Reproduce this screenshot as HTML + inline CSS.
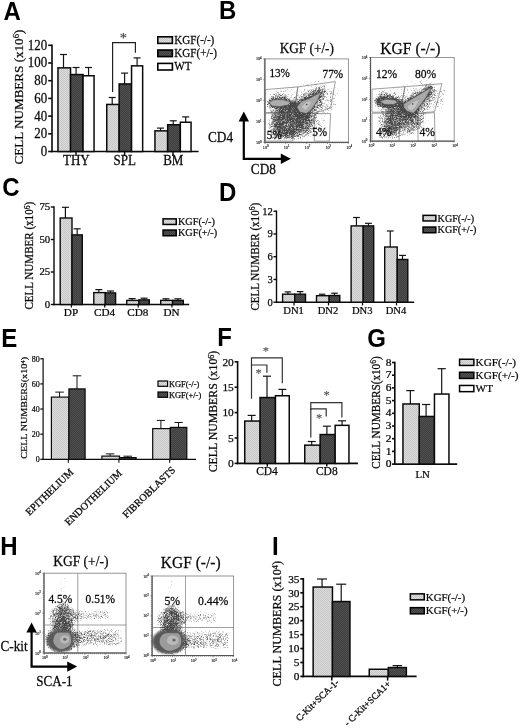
<!DOCTYPE html>
<html><head><meta charset="utf-8"><title>Figure</title>
<style>
html,body{margin:0;padding:0;background:#fff}
svg{display:block}
.s{font-family:"Liberation Serif","Times New Roman",serif}
.a{font-family:"Liberation Sans",Arial,sans-serif}
</style></head>
<body>
<svg width="520" height="728" viewBox="0 0 520 728">
<rect x="0" y="0" width="520" height="728" fill="#fff"/>
<defs>
<pattern id="pl" width="2" height="2" patternUnits="userSpaceOnUse"><rect width="2" height="2" fill="#dcdcdc"/><rect width="1" height="1" fill="#c6c6c6"/><rect x="1" y="1" width="1" height="1" fill="#c6c6c6"/></pattern>
<pattern id="pd" width="2" height="2" patternUnits="userSpaceOnUse"><rect width="2" height="2" fill="#3e3e3e"/><rect width="1" height="1" fill="#505050"/><rect x="1" y="1" width="1" height="1" fill="#505050"/></pattern>
<filter id="sp" x="0" y="0" width="1" height="1" color-interpolation-filters="sRGB">
<feTurbulence type="fractalNoise" baseFrequency="1.7" numOctaves="1" seed="5" result="n"/>
<feComposite in="SourceGraphic" in2="n" operator="arithmetic" k1="0" k2="1" k3="1" k4="-1" result="c"/>
<feComponentTransfer in="c" result="t"><feFuncA type="linear" slope="2.5" intercept="0"/></feComponentTransfer>
<feFlood flood-color="#464646"/>
<feComposite operator="in" in2="t"/>
<feGaussianBlur stdDeviation="0.75"/>
</filter>
<filter id="b1" x="-30%" y="-30%" width="160%" height="160%"><feGaussianBlur stdDeviation="1"/></filter>
<filter id="b2" x="-30%" y="-30%" width="160%" height="160%"><feGaussianBlur stdDeviation="2"/></filter>
<filter id="b3" x="-40%" y="-40%" width="180%" height="180%"><feGaussianBlur stdDeviation="3.2"/></filter>
</defs>
<text class="a" transform="translate(3.5 20.05) scale(0.96 1)" font-size="25" font-weight="bold" fill="#000">A</text>
<text class="a" transform="translate(218.99 18.95) scale(0.96 1)" font-size="25" font-weight="bold" fill="#000">B</text>
<text class="a" transform="translate(2.32 196.13) scale(0.96 1)" font-size="25" font-weight="bold" fill="#000">C</text>
<text class="a" transform="translate(218.99 200.55) scale(0.96 1)" font-size="25" font-weight="bold" fill="#000">D</text>
<text class="a" transform="translate(1.29 347.05) scale(0.96 1)" font-size="25" font-weight="bold" fill="#000">E</text>
<text class="a" transform="translate(217.29 346.45) scale(0.96 1)" font-size="25" font-weight="bold" fill="#000">F</text>
<text class="a" transform="translate(367.32 346.82) scale(0.96 1)" font-size="25" font-weight="bold" fill="#000">G</text>
<text class="a" transform="translate(0.19 555.15) scale(0.96 1)" font-size="25" font-weight="bold" fill="#000">H</text>
<text class="a" transform="translate(271.89 555.15) scale(0.96 1)" font-size="25" font-weight="bold" fill="#000">I</text>
<line x1="52" y1="44.5" x2="52" y2="152.3" stroke="#0a0a0a" stroke-width="1.6" stroke-linecap="butt"/>
<line x1="48.2" y1="151.5" x2="52" y2="151.5" stroke="#0a0a0a" stroke-width="1.6" stroke-linecap="butt"/>
<text class="s" transform="translate(47.2 155.99) scale(0.95 1)" font-size="13.6" text-anchor="end" fill="#0a0a0a" stroke="#0a0a0a" stroke-width="0.25">0</text>
<line x1="48.2" y1="133.8" x2="52" y2="133.8" stroke="#0a0a0a" stroke-width="1.6" stroke-linecap="butt"/>
<text class="s" transform="translate(47.2 138.29) scale(0.95 1)" font-size="13.6" text-anchor="end" fill="#0a0a0a" stroke="#0a0a0a" stroke-width="0.25">20</text>
<line x1="48.2" y1="116.1" x2="52" y2="116.1" stroke="#0a0a0a" stroke-width="1.6" stroke-linecap="butt"/>
<text class="s" transform="translate(47.2 120.59) scale(0.95 1)" font-size="13.6" text-anchor="end" fill="#0a0a0a" stroke="#0a0a0a" stroke-width="0.25">40</text>
<line x1="48.2" y1="98.4" x2="52" y2="98.4" stroke="#0a0a0a" stroke-width="1.6" stroke-linecap="butt"/>
<text class="s" transform="translate(47.2 102.89) scale(0.95 1)" font-size="13.6" text-anchor="end" fill="#0a0a0a" stroke="#0a0a0a" stroke-width="0.25">60</text>
<line x1="48.2" y1="80.7" x2="52" y2="80.7" stroke="#0a0a0a" stroke-width="1.6" stroke-linecap="butt"/>
<text class="s" transform="translate(47.2 85.19) scale(0.95 1)" font-size="13.6" text-anchor="end" fill="#0a0a0a" stroke="#0a0a0a" stroke-width="0.25">80</text>
<line x1="48.2" y1="63" x2="52" y2="63" stroke="#0a0a0a" stroke-width="1.6" stroke-linecap="butt"/>
<text class="s" transform="translate(47.2 67.49) scale(0.95 1)" font-size="13.6" text-anchor="end" fill="#0a0a0a" stroke="#0a0a0a" stroke-width="0.25">100</text>
<line x1="48.2" y1="45.3" x2="52" y2="45.3" stroke="#0a0a0a" stroke-width="1.6" stroke-linecap="butt"/>
<text class="s" transform="translate(47.2 49.79) scale(0.95 1)" font-size="13.6" text-anchor="end" fill="#0a0a0a" stroke="#0a0a0a" stroke-width="0.25">120</text>
<line x1="51.2" y1="151.5" x2="198.6" y2="151.5" stroke="#0a0a0a" stroke-width="1.6" stroke-linecap="butt"/>
<line x1="76" y1="151.5" x2="76" y2="156" stroke="#0a0a0a" stroke-width="1.44" stroke-linecap="butt"/>
<line x1="124.6" y1="151.5" x2="124.6" y2="156" stroke="#0a0a0a" stroke-width="1.44" stroke-linecap="butt"/>
<line x1="173" y1="151.5" x2="173" y2="156" stroke="#0a0a0a" stroke-width="1.44" stroke-linecap="butt"/>
<line x1="63.5" y1="54.5" x2="63.5" y2="68.1" stroke="#141414" stroke-width="1.2" stroke-linecap="butt"/>
<line x1="60" y1="54.5" x2="67" y2="54.5" stroke="#141414" stroke-width="1.2" stroke-linecap="butt"/>
<line x1="76.05" y1="67.5" x2="76.05" y2="74.8" stroke="#141414" stroke-width="1.2" stroke-linecap="butt"/>
<line x1="72.55" y1="67.5" x2="79.55" y2="67.5" stroke="#141414" stroke-width="1.2" stroke-linecap="butt"/>
<line x1="88.55" y1="67.5" x2="88.55" y2="76" stroke="#141414" stroke-width="1.2" stroke-linecap="butt"/>
<line x1="85.05" y1="67.5" x2="92.05" y2="67.5" stroke="#141414" stroke-width="1.2" stroke-linecap="butt"/>
<rect x="57.95" y="67.85" width="12.6" height="83.65" fill="url(#pl)" stroke="#0a0a0a" stroke-width="1.5"/>
<rect x="70.55" y="74.55" width="12.5" height="76.95" fill="url(#pd)" stroke="#0a0a0a" stroke-width="1.5"/>
<rect x="83.05" y="75.75" width="11" height="75.75" fill="#ffffff" stroke="#0a0a0a" stroke-width="1.5"/>
<line x1="112.2" y1="97.5" x2="112.2" y2="104.7" stroke="#141414" stroke-width="1.2" stroke-linecap="butt"/>
<line x1="108.7" y1="97.5" x2="115.7" y2="97.5" stroke="#141414" stroke-width="1.2" stroke-linecap="butt"/>
<line x1="124.6" y1="73.1" x2="124.6" y2="84.2" stroke="#141414" stroke-width="1.2" stroke-linecap="butt"/>
<line x1="121.1" y1="73.1" x2="128.1" y2="73.1" stroke="#141414" stroke-width="1.2" stroke-linecap="butt"/>
<line x1="137.1" y1="57.9" x2="137.1" y2="66.1" stroke="#141414" stroke-width="1.2" stroke-linecap="butt"/>
<line x1="133.6" y1="57.9" x2="140.6" y2="57.9" stroke="#141414" stroke-width="1.2" stroke-linecap="butt"/>
<rect x="106.75" y="104.45" width="12.4" height="47.05" fill="url(#pl)" stroke="#0a0a0a" stroke-width="1.5"/>
<rect x="119.15" y="83.95" width="12.4" height="67.55" fill="url(#pd)" stroke="#0a0a0a" stroke-width="1.5"/>
<rect x="131.55" y="65.85" width="11.1" height="85.65" fill="#ffffff" stroke="#0a0a0a" stroke-width="1.5"/>
<line x1="160.55" y1="128.1" x2="160.55" y2="131.1" stroke="#141414" stroke-width="1.2" stroke-linecap="butt"/>
<line x1="157.05" y1="128.1" x2="164.05" y2="128.1" stroke="#141414" stroke-width="1.2" stroke-linecap="butt"/>
<line x1="173.25" y1="120.8" x2="173.25" y2="125" stroke="#141414" stroke-width="1.2" stroke-linecap="butt"/>
<line x1="169.75" y1="120.8" x2="176.75" y2="120.8" stroke="#141414" stroke-width="1.2" stroke-linecap="butt"/>
<line x1="185.7" y1="116.9" x2="185.7" y2="122.5" stroke="#141414" stroke-width="1.2" stroke-linecap="butt"/>
<line x1="182.2" y1="116.9" x2="189.2" y2="116.9" stroke="#141414" stroke-width="1.2" stroke-linecap="butt"/>
<rect x="154.95" y="130.85" width="12.7" height="20.65" fill="url(#pl)" stroke="#0a0a0a" stroke-width="1.5"/>
<rect x="167.65" y="124.75" width="12.7" height="26.75" fill="url(#pd)" stroke="#0a0a0a" stroke-width="1.5"/>
<rect x="180.35" y="122.25" width="10.7" height="29.25" fill="#ffffff" stroke="#0a0a0a" stroke-width="1.5"/>
<text class="s" transform="translate(76.3 164.6) scale(1 1.13)" font-size="13" text-anchor="middle" fill="#0a0a0a" stroke="#0a0a0a" stroke-width="0.25">THY</text>
<text class="s" transform="translate(124.8 164.6) scale(1 1.13)" font-size="13" text-anchor="middle" fill="#0a0a0a" stroke="#0a0a0a" stroke-width="0.25">SPL</text>
<text class="s" transform="translate(173.3 164.6) scale(1 1.13)" font-size="13" text-anchor="middle" fill="#0a0a0a" stroke="#0a0a0a" stroke-width="0.25">BM</text>
<text class="s" transform="translate(22.6 164.4) rotate(-90) scale(1 0.96)" font-size="13.1" text-anchor="start" fill="#0a0a0a" stroke="#0a0a0a" stroke-width="0.25">CELL NUMBERS (x10<tspan dy="-3.4" font-size="68%">6</tspan><tspan dy="3.4">)</tspan></text>
<path d="M112.6 92V42.6H135.4V52.7" fill="none" stroke="#222" stroke-width="1.2"/>
<text class="s" transform="translate(123.3 43.3)" font-size="14.5" text-anchor="middle" fill="#3a3a3a" stroke="#3a3a3a" stroke-width="0.15">*</text>
<rect x="157.8" y="36.8" width="14.6" height="6.6" fill="url(#pl)" stroke="#000" stroke-width="1.6"/>
<text class="s" transform="translate(174.3 44.2) scale(0.94 1.05)" font-size="11.8" text-anchor="start" fill="#0a0a0a" stroke="#0a0a0a" stroke-width="0.25">KGF(-/-)</text>
<rect x="157.8" y="50" width="14.6" height="6.6" fill="url(#pd)" stroke="#000" stroke-width="1.6"/>
<text class="s" transform="translate(174.3 57.4) scale(0.94 1.05)" font-size="11.8" text-anchor="start" fill="#0a0a0a" stroke="#0a0a0a" stroke-width="0.25">KGF(+/-)</text>
<rect x="157.8" y="63.4" width="14.6" height="6.6" fill="#ffffff" stroke="#000" stroke-width="1.6"/>
<text class="s" transform="translate(174.3 70) scale(0.94 1.05)" font-size="11.8" text-anchor="start" fill="#0a0a0a" stroke="#0a0a0a" stroke-width="0.25">WT</text>
<line x1="54" y1="206.3" x2="54" y2="305.2" stroke="#0a0a0a" stroke-width="1.4" stroke-linecap="butt"/>
<line x1="50.8" y1="304.5" x2="54" y2="304.5" stroke="#0a0a0a" stroke-width="1.4" stroke-linecap="butt"/>
<text class="s" transform="translate(50.2 307.96) scale(1 0.97)" font-size="10.8" text-anchor="end" fill="#0a0a0a" stroke="#0a0a0a" stroke-width="0.25">0</text>
<line x1="50.8" y1="272" x2="54" y2="272" stroke="#0a0a0a" stroke-width="1.4" stroke-linecap="butt"/>
<text class="s" transform="translate(50.2 275.46) scale(1 0.97)" font-size="10.8" text-anchor="end" fill="#0a0a0a" stroke="#0a0a0a" stroke-width="0.25">25</text>
<line x1="50.8" y1="239.5" x2="54" y2="239.5" stroke="#0a0a0a" stroke-width="1.4" stroke-linecap="butt"/>
<text class="s" transform="translate(50.2 242.96) scale(1 0.97)" font-size="10.8" text-anchor="end" fill="#0a0a0a" stroke="#0a0a0a" stroke-width="0.25">50</text>
<line x1="50.8" y1="207" x2="54" y2="207" stroke="#0a0a0a" stroke-width="1.4" stroke-linecap="butt"/>
<text class="s" transform="translate(50.2 210.46) scale(1 0.97)" font-size="10.8" text-anchor="end" fill="#0a0a0a" stroke="#0a0a0a" stroke-width="0.25">75</text>
<line x1="53.3" y1="304.5" x2="189.2" y2="304.5" stroke="#0a0a0a" stroke-width="1.4" stroke-linecap="butt"/>
<line x1="71.4" y1="304.5" x2="71.4" y2="307.5" stroke="#0a0a0a" stroke-width="1.26" stroke-linecap="butt"/>
<line x1="104.7" y1="304.5" x2="104.7" y2="307.5" stroke="#0a0a0a" stroke-width="1.26" stroke-linecap="butt"/>
<line x1="138.2" y1="304.5" x2="138.2" y2="307.5" stroke="#0a0a0a" stroke-width="1.26" stroke-linecap="butt"/>
<line x1="171.9" y1="304.5" x2="171.9" y2="307.5" stroke="#0a0a0a" stroke-width="1.26" stroke-linecap="butt"/>
<line x1="65.4" y1="207.3" x2="65.4" y2="218.3" stroke="#141414" stroke-width="1.2" stroke-linecap="butt"/>
<line x1="61.9" y1="207.3" x2="68.9" y2="207.3" stroke="#141414" stroke-width="1.2" stroke-linecap="butt"/>
<line x1="77.15" y1="228.8" x2="77.15" y2="235.2" stroke="#141414" stroke-width="1.2" stroke-linecap="butt"/>
<line x1="73.65" y1="228.8" x2="80.65" y2="228.8" stroke="#141414" stroke-width="1.2" stroke-linecap="butt"/>
<rect x="60.2" y="218" width="11.8" height="86.5" fill="url(#pl)" stroke="#0a0a0a" stroke-width="1.4"/>
<rect x="72" y="234.9" width="10.3" height="69.6" fill="url(#pd)" stroke="#0a0a0a" stroke-width="1.4"/>
<line x1="98.85" y1="289.6" x2="98.85" y2="292.9" stroke="#141414" stroke-width="1.2" stroke-linecap="butt"/>
<line x1="95.35" y1="289.6" x2="102.35" y2="289.6" stroke="#141414" stroke-width="1.2" stroke-linecap="butt"/>
<line x1="110.45" y1="291" x2="110.45" y2="293.2" stroke="#141414" stroke-width="1.2" stroke-linecap="butt"/>
<line x1="106.95" y1="291" x2="113.95" y2="291" stroke="#141414" stroke-width="1.2" stroke-linecap="butt"/>
<rect x="93.8" y="292.6" width="11.5" height="11.9" fill="url(#pl)" stroke="#0a0a0a" stroke-width="1.4"/>
<rect x="105.3" y="292.9" width="10.3" height="11.6" fill="url(#pd)" stroke="#0a0a0a" stroke-width="1.4"/>
<line x1="132.1" y1="298.6" x2="132.1" y2="300.7" stroke="#141414" stroke-width="1.2" stroke-linecap="butt"/>
<line x1="128.6" y1="298.6" x2="135.6" y2="298.6" stroke="#141414" stroke-width="1.2" stroke-linecap="butt"/>
<line x1="144.1" y1="298.2" x2="144.1" y2="300.2" stroke="#141414" stroke-width="1.2" stroke-linecap="butt"/>
<line x1="140.6" y1="298.2" x2="147.6" y2="298.2" stroke="#141414" stroke-width="1.2" stroke-linecap="butt"/>
<rect x="126.7" y="300.4" width="12.2" height="4.1" fill="url(#pl)" stroke="#0a0a0a" stroke-width="1.4"/>
<rect x="138.9" y="299.9" width="10.4" height="4.6" fill="url(#pd)" stroke="#0a0a0a" stroke-width="1.4"/>
<line x1="165.95" y1="298.8" x2="165.95" y2="300.7" stroke="#141414" stroke-width="1.2" stroke-linecap="butt"/>
<line x1="162.45" y1="298.8" x2="169.45" y2="298.8" stroke="#141414" stroke-width="1.2" stroke-linecap="butt"/>
<line x1="177.95" y1="298.8" x2="177.95" y2="300.7" stroke="#141414" stroke-width="1.2" stroke-linecap="butt"/>
<line x1="174.45" y1="298.8" x2="181.45" y2="298.8" stroke="#141414" stroke-width="1.2" stroke-linecap="butt"/>
<rect x="160.7" y="300.4" width="11.9" height="4.1" fill="url(#pl)" stroke="#0a0a0a" stroke-width="1.4"/>
<rect x="172.6" y="300.4" width="10.7" height="4.1" fill="url(#pd)" stroke="#0a0a0a" stroke-width="1.4"/>
<text class="s" transform="translate(71 315.6) scale(1 0.97)" font-size="11.2" text-anchor="middle" fill="#0a0a0a" stroke="#0a0a0a" stroke-width="0.25">DP</text>
<text class="s" transform="translate(104.6 315.6) scale(1 0.97)" font-size="11.2" text-anchor="middle" fill="#0a0a0a" stroke="#0a0a0a" stroke-width="0.25">CD4</text>
<text class="s" transform="translate(137.8 315.6) scale(1 0.97)" font-size="11.2" text-anchor="middle" fill="#0a0a0a" stroke="#0a0a0a" stroke-width="0.25">CD8</text>
<text class="s" transform="translate(171.6 315.6) scale(1 0.97)" font-size="11.2" text-anchor="middle" fill="#0a0a0a" stroke="#0a0a0a" stroke-width="0.25">DN</text>
<text class="s" transform="translate(33.4 309.6) rotate(-90) scale(1 1.08)" font-size="11.05" text-anchor="start" fill="#0a0a0a" stroke="#0a0a0a" stroke-width="0.25">CELL NUMBER (x10<tspan dy="-3.4" font-size="68%">6</tspan><tspan dy="3.4">)</tspan></text>
<rect x="163.05" y="218.85" width="13.2" height="5.6" fill="url(#pl)" stroke="#000" stroke-width="1.5"/>
<text class="s" transform="translate(178 225) scale(1 0.95)" font-size="10.2" text-anchor="start" fill="#0a0a0a" stroke="#0a0a0a" stroke-width="0.25">KGF(-/-)</text>
<rect x="163.05" y="230.05" width="13.2" height="5.7" fill="url(#pd)" stroke="#000" stroke-width="1.5"/>
<text class="s" transform="translate(178 236) scale(1 0.95)" font-size="10.2" text-anchor="start" fill="#0a0a0a" stroke="#0a0a0a" stroke-width="0.25">KGF(+/-)</text>
<line x1="276.5" y1="210.5" x2="276.5" y2="302.9" stroke="#0a0a0a" stroke-width="1.4" stroke-linecap="butt"/>
<line x1="273.5" y1="302.2" x2="276.5" y2="302.2" stroke="#0a0a0a" stroke-width="1.4" stroke-linecap="butt"/>
<text class="s" transform="translate(272.9 305.7)" font-size="10.6" text-anchor="end" fill="#0a0a0a" stroke="#0a0a0a" stroke-width="0.25">0</text>
<line x1="273.5" y1="279.45" x2="276.5" y2="279.45" stroke="#0a0a0a" stroke-width="1.4" stroke-linecap="butt"/>
<text class="s" transform="translate(272.9 282.95)" font-size="10.6" text-anchor="end" fill="#0a0a0a" stroke="#0a0a0a" stroke-width="0.25">3</text>
<line x1="273.5" y1="256.7" x2="276.5" y2="256.7" stroke="#0a0a0a" stroke-width="1.4" stroke-linecap="butt"/>
<text class="s" transform="translate(272.9 260.2)" font-size="10.6" text-anchor="end" fill="#0a0a0a" stroke="#0a0a0a" stroke-width="0.25">6</text>
<line x1="273.5" y1="233.95" x2="276.5" y2="233.95" stroke="#0a0a0a" stroke-width="1.4" stroke-linecap="butt"/>
<text class="s" transform="translate(272.9 237.45)" font-size="10.6" text-anchor="end" fill="#0a0a0a" stroke="#0a0a0a" stroke-width="0.25">9</text>
<line x1="273.5" y1="211.2" x2="276.5" y2="211.2" stroke="#0a0a0a" stroke-width="1.4" stroke-linecap="butt"/>
<text class="s" transform="translate(272.9 214.7)" font-size="10.6" text-anchor="end" fill="#0a0a0a" stroke="#0a0a0a" stroke-width="0.25">12</text>
<line x1="275.8" y1="302.2" x2="414.2" y2="302.2" stroke="#0a0a0a" stroke-width="1.4" stroke-linecap="butt"/>
<line x1="294" y1="302.2" x2="294" y2="305.4" stroke="#0a0a0a" stroke-width="1.26" stroke-linecap="butt"/>
<line x1="328.5" y1="302.2" x2="328.5" y2="305.4" stroke="#0a0a0a" stroke-width="1.26" stroke-linecap="butt"/>
<line x1="362.5" y1="302.2" x2="362.5" y2="305.4" stroke="#0a0a0a" stroke-width="1.26" stroke-linecap="butt"/>
<line x1="396.5" y1="302.2" x2="396.5" y2="305.4" stroke="#0a0a0a" stroke-width="1.26" stroke-linecap="butt"/>
<line x1="287.95" y1="291.9" x2="287.95" y2="294.5" stroke="#141414" stroke-width="1.2" stroke-linecap="butt"/>
<line x1="284.7" y1="291.9" x2="291.2" y2="291.9" stroke="#141414" stroke-width="1.2" stroke-linecap="butt"/>
<line x1="300.1" y1="291.6" x2="300.1" y2="294.5" stroke="#141414" stroke-width="1.2" stroke-linecap="butt"/>
<line x1="296.85" y1="291.6" x2="303.35" y2="291.6" stroke="#141414" stroke-width="1.2" stroke-linecap="butt"/>
<rect x="282.6" y="294.2" width="12.1" height="8" fill="url(#pl)" stroke="#0a0a0a" stroke-width="1.4"/>
<rect x="294.7" y="294.2" width="10.8" height="8" fill="url(#pd)" stroke="#0a0a0a" stroke-width="1.4"/>
<line x1="322.15" y1="294.2" x2="322.15" y2="296" stroke="#141414" stroke-width="1.2" stroke-linecap="butt"/>
<line x1="318.9" y1="294.2" x2="325.4" y2="294.2" stroke="#141414" stroke-width="1.2" stroke-linecap="butt"/>
<line x1="334.5" y1="293.2" x2="334.5" y2="295.8" stroke="#141414" stroke-width="1.2" stroke-linecap="butt"/>
<line x1="331.25" y1="293.2" x2="337.75" y2="293.2" stroke="#141414" stroke-width="1.2" stroke-linecap="butt"/>
<rect x="316.5" y="295.7" width="12.7" height="6.5" fill="url(#pl)" stroke="#0a0a0a" stroke-width="1.4"/>
<rect x="329.2" y="295.5" width="10.6" height="6.7" fill="url(#pd)" stroke="#0a0a0a" stroke-width="1.4"/>
<line x1="356.45" y1="217.5" x2="356.45" y2="226.2" stroke="#141414" stroke-width="1.2" stroke-linecap="butt"/>
<line x1="353.05" y1="217.5" x2="359.85" y2="217.5" stroke="#141414" stroke-width="1.2" stroke-linecap="butt"/>
<line x1="368.45" y1="223.3" x2="368.45" y2="226.2" stroke="#141414" stroke-width="1.2" stroke-linecap="butt"/>
<line x1="365.05" y1="223.3" x2="371.85" y2="223.3" stroke="#141414" stroke-width="1.2" stroke-linecap="butt"/>
<rect x="351.1" y="225.9" width="12.1" height="76.3" fill="url(#pl)" stroke="#0a0a0a" stroke-width="1.4"/>
<rect x="363.2" y="225.9" width="10.5" height="76.3" fill="url(#pd)" stroke="#0a0a0a" stroke-width="1.4"/>
<line x1="390.25" y1="231" x2="390.25" y2="247.3" stroke="#141414" stroke-width="1.2" stroke-linecap="butt"/>
<line x1="386.85" y1="231" x2="393.65" y2="231" stroke="#141414" stroke-width="1.2" stroke-linecap="butt"/>
<line x1="402.5" y1="255.4" x2="402.5" y2="259.8" stroke="#141414" stroke-width="1.2" stroke-linecap="butt"/>
<line x1="399.1" y1="255.4" x2="405.9" y2="255.4" stroke="#141414" stroke-width="1.2" stroke-linecap="butt"/>
<rect x="384.7" y="247" width="12.5" height="55.2" fill="url(#pl)" stroke="#0a0a0a" stroke-width="1.4"/>
<rect x="397.2" y="259.5" width="10.6" height="42.7" fill="url(#pd)" stroke="#0a0a0a" stroke-width="1.4"/>
<text class="s" transform="translate(293.6 313.5) scale(1 0.97)" font-size="10.6" text-anchor="middle" fill="#0a0a0a" stroke="#0a0a0a" stroke-width="0.25">DN1</text>
<text class="s" transform="translate(328 313.5) scale(1 0.97)" font-size="10.6" text-anchor="middle" fill="#0a0a0a" stroke="#0a0a0a" stroke-width="0.25">DN2</text>
<text class="s" transform="translate(362.2 313.5) scale(1 0.97)" font-size="10.6" text-anchor="middle" fill="#0a0a0a" stroke="#0a0a0a" stroke-width="0.25">DN3</text>
<text class="s" transform="translate(396 313.5) scale(1 0.97)" font-size="10.6" text-anchor="middle" fill="#0a0a0a" stroke="#0a0a0a" stroke-width="0.25">DN4</text>
<text class="s" transform="translate(258.8 310.6) rotate(-90) scale(1 1.08)" font-size="11.05" text-anchor="start" fill="#0a0a0a" stroke="#0a0a0a" stroke-width="0.25">CELL NUMBER (x10<tspan dy="-3.4" font-size="68%">6</tspan><tspan dy="3.4">)</tspan></text>
<rect x="423.05" y="215.35" width="12.8" height="5.6" fill="url(#pl)" stroke="#000" stroke-width="1.5"/>
<text class="s" transform="translate(437.6 221.5) scale(1 0.97)" font-size="10.1" text-anchor="start" fill="#0a0a0a" stroke="#0a0a0a" stroke-width="0.25">KGF(-/-)</text>
<rect x="423.05" y="227.05" width="12.8" height="5.7" fill="url(#pd)" stroke="#000" stroke-width="1.5"/>
<text class="s" transform="translate(437.6 233.2) scale(1 0.97)" font-size="10.1" text-anchor="start" fill="#0a0a0a" stroke="#0a0a0a" stroke-width="0.25">KGF(+/-)</text>
<line x1="43.1" y1="358.18" x2="43.1" y2="459.9" stroke="#0a0a0a" stroke-width="1.2" stroke-linecap="butt"/>
<line x1="40.3" y1="459.3" x2="43.1" y2="459.3" stroke="#0a0a0a" stroke-width="1.2" stroke-linecap="butt"/>
<text class="s" transform="translate(39.8 462.24) scale(0.9 1)" font-size="8.9" text-anchor="end" fill="#0a0a0a" stroke="#0a0a0a" stroke-width="0.25">0</text>
<line x1="40.3" y1="434.17" x2="43.1" y2="434.17" stroke="#0a0a0a" stroke-width="1.2" stroke-linecap="butt"/>
<text class="s" transform="translate(39.8 437.11) scale(0.9 1)" font-size="8.9" text-anchor="end" fill="#0a0a0a" stroke="#0a0a0a" stroke-width="0.25">20</text>
<line x1="40.3" y1="409.04" x2="43.1" y2="409.04" stroke="#0a0a0a" stroke-width="1.2" stroke-linecap="butt"/>
<text class="s" transform="translate(39.8 411.98) scale(0.9 1)" font-size="8.9" text-anchor="end" fill="#0a0a0a" stroke="#0a0a0a" stroke-width="0.25">40</text>
<line x1="40.3" y1="383.91" x2="43.1" y2="383.91" stroke="#0a0a0a" stroke-width="1.2" stroke-linecap="butt"/>
<text class="s" transform="translate(39.8 386.85) scale(0.9 1)" font-size="8.9" text-anchor="end" fill="#0a0a0a" stroke="#0a0a0a" stroke-width="0.25">60</text>
<line x1="40.3" y1="358.78" x2="43.1" y2="358.78" stroke="#0a0a0a" stroke-width="1.2" stroke-linecap="butt"/>
<text class="s" transform="translate(39.8 361.72) scale(0.9 1)" font-size="8.9" text-anchor="end" fill="#0a0a0a" stroke="#0a0a0a" stroke-width="0.25">80</text>
<line x1="42.5" y1="459.3" x2="196.1" y2="459.3" stroke="#0a0a0a" stroke-width="1.2" stroke-linecap="butt"/>
<line x1="68.3" y1="459.3" x2="68.3" y2="462.7" stroke="#0a0a0a" stroke-width="1.08" stroke-linecap="butt"/>
<line x1="118.9" y1="459.3" x2="118.9" y2="462.7" stroke="#0a0a0a" stroke-width="1.08" stroke-linecap="butt"/>
<line x1="169.7" y1="459.3" x2="169.7" y2="462.7" stroke="#0a0a0a" stroke-width="1.08" stroke-linecap="butt"/>
<line x1="59.55" y1="392.1" x2="59.55" y2="397.5" stroke="#141414" stroke-width="1" stroke-linecap="butt"/>
<line x1="55.25" y1="392.1" x2="63.85" y2="392.1" stroke="#141414" stroke-width="1" stroke-linecap="butt"/>
<line x1="77" y1="375.8" x2="77" y2="389.3" stroke="#141414" stroke-width="1" stroke-linecap="butt"/>
<line x1="72.7" y1="375.8" x2="81.3" y2="375.8" stroke="#141414" stroke-width="1" stroke-linecap="butt"/>
<rect x="51.4" y="397.1" width="17.5" height="62.2" fill="url(#pl)" stroke="#0a0a0a" stroke-width="1.2"/>
<rect x="68.9" y="388.9" width="16.2" height="70.4" fill="url(#pd)" stroke="#0a0a0a" stroke-width="1.2"/>
<line x1="110.1" y1="453.9" x2="110.1" y2="456.5" stroke="#141414" stroke-width="1" stroke-linecap="butt"/>
<line x1="105.8" y1="453.9" x2="114.4" y2="453.9" stroke="#141414" stroke-width="1" stroke-linecap="butt"/>
<line x1="127.8" y1="456.2" x2="127.8" y2="458" stroke="#141414" stroke-width="1" stroke-linecap="butt"/>
<line x1="123.5" y1="456.2" x2="132.1" y2="456.2" stroke="#141414" stroke-width="1" stroke-linecap="butt"/>
<rect x="101.9" y="456.1" width="17.6" height="3.2" fill="url(#pl)" stroke="#0a0a0a" stroke-width="1.2"/>
<rect x="119.5" y="457.6" width="16.6" height="1.7" fill="url(#pd)" stroke="#0a0a0a" stroke-width="1.2"/>
<line x1="160.9" y1="420.4" x2="160.9" y2="429" stroke="#141414" stroke-width="1" stroke-linecap="butt"/>
<line x1="156.8" y1="420.4" x2="165" y2="420.4" stroke="#141414" stroke-width="1" stroke-linecap="butt"/>
<line x1="178.55" y1="422.5" x2="178.55" y2="427.8" stroke="#141414" stroke-width="1" stroke-linecap="butt"/>
<line x1="174.45" y1="422.5" x2="182.65" y2="422.5" stroke="#141414" stroke-width="1" stroke-linecap="butt"/>
<rect x="152.7" y="428.6" width="17.6" height="30.7" fill="url(#pl)" stroke="#0a0a0a" stroke-width="1.2"/>
<rect x="170.3" y="427.4" width="16.5" height="31.9" fill="url(#pd)" stroke="#0a0a0a" stroke-width="1.2"/>
<text class="s" transform="translate(74 473) rotate(-44)" font-size="10.3" text-anchor="end" fill="#0a0a0a" stroke="#0a0a0a" stroke-width="0.3">EPITHELIUM</text>
<text class="s" transform="translate(122.6 474) rotate(-44)" font-size="10.3" text-anchor="end" fill="#0a0a0a" stroke="#0a0a0a" stroke-width="0.3">ENDOTHELIUM</text>
<text class="s" transform="translate(175.8 470.8) rotate(-44)" font-size="10.3" text-anchor="end" fill="#0a0a0a" stroke="#0a0a0a" stroke-width="0.3">FIBROBLASTS</text>
<text class="s" transform="translate(27.3 458.8) rotate(-90) scale(1 0.86)" font-size="10.15" text-anchor="start" fill="#0a0a0a" stroke="#0a0a0a" stroke-width="0.25">CELL NUMBERS(x10<tspan dy="-3" font-size="68%">4</tspan><tspan dy="3">)</tspan></text>
<rect x="158" y="381" width="9.6" height="5.3" fill="url(#pl)" stroke="#000" stroke-width="1.2"/>
<text class="s" transform="translate(169 386.7)" font-size="8.4" text-anchor="start" fill="#0a0a0a" stroke="#0a0a0a" stroke-width="0.25">KGF(-/-)</text>
<rect x="158" y="392" width="9.6" height="5.3" fill="url(#pd)" stroke="#000" stroke-width="1.2"/>
<text class="s" transform="translate(169 397.5)" font-size="8.4" text-anchor="start" fill="#0a0a0a" stroke="#0a0a0a" stroke-width="0.25">KGF(+/-)</text>
<line x1="237.6" y1="361" x2="237.6" y2="464.2" stroke="#0a0a0a" stroke-width="1.6" stroke-linecap="butt"/>
<line x1="234.6" y1="463.4" x2="237.6" y2="463.4" stroke="#0a0a0a" stroke-width="1.6" stroke-linecap="butt"/>
<text class="s" transform="translate(233.8 467.16)" font-size="11.4" text-anchor="end" fill="#0a0a0a" stroke="#0a0a0a" stroke-width="0.25">0</text>
<line x1="234.6" y1="438" x2="237.6" y2="438" stroke="#0a0a0a" stroke-width="1.6" stroke-linecap="butt"/>
<text class="s" transform="translate(233.8 441.76)" font-size="11.4" text-anchor="end" fill="#0a0a0a" stroke="#0a0a0a" stroke-width="0.25">5</text>
<line x1="234.6" y1="412.6" x2="237.6" y2="412.6" stroke="#0a0a0a" stroke-width="1.6" stroke-linecap="butt"/>
<text class="s" transform="translate(233.8 416.36)" font-size="11.4" text-anchor="end" fill="#0a0a0a" stroke="#0a0a0a" stroke-width="0.25">10</text>
<line x1="234.6" y1="387.2" x2="237.6" y2="387.2" stroke="#0a0a0a" stroke-width="1.6" stroke-linecap="butt"/>
<text class="s" transform="translate(233.8 390.96)" font-size="11.4" text-anchor="end" fill="#0a0a0a" stroke="#0a0a0a" stroke-width="0.25">15</text>
<line x1="234.6" y1="361.8" x2="237.6" y2="361.8" stroke="#0a0a0a" stroke-width="1.6" stroke-linecap="butt"/>
<text class="s" transform="translate(233.8 365.56)" font-size="11.4" text-anchor="end" fill="#0a0a0a" stroke="#0a0a0a" stroke-width="0.25">20</text>
<line x1="236.8" y1="463.4" x2="357.9" y2="463.4" stroke="#0a0a0a" stroke-width="1.6" stroke-linecap="butt"/>
<line x1="267.3" y1="463.4" x2="267.3" y2="466.6" stroke="#0a0a0a" stroke-width="1.44" stroke-linecap="butt"/>
<line x1="326.8" y1="463.4" x2="326.8" y2="466.6" stroke="#0a0a0a" stroke-width="1.44" stroke-linecap="butt"/>
<line x1="251.65" y1="415.4" x2="251.65" y2="421.3" stroke="#141414" stroke-width="1.2" stroke-linecap="butt"/>
<line x1="247.65" y1="415.4" x2="255.65" y2="415.4" stroke="#141414" stroke-width="1.2" stroke-linecap="butt"/>
<line x1="267" y1="376.2" x2="267" y2="397.8" stroke="#141414" stroke-width="1.2" stroke-linecap="butt"/>
<line x1="263" y1="376.2" x2="271" y2="376.2" stroke="#141414" stroke-width="1.2" stroke-linecap="butt"/>
<line x1="282.35" y1="389.4" x2="282.35" y2="396" stroke="#141414" stroke-width="1.2" stroke-linecap="butt"/>
<line x1="278.35" y1="389.4" x2="286.35" y2="389.4" stroke="#141414" stroke-width="1.2" stroke-linecap="butt"/>
<rect x="244.75" y="421.05" width="15.3" height="42.35" fill="url(#pl)" stroke="#0a0a0a" stroke-width="1.5"/>
<rect x="260.05" y="397.55" width="15.4" height="65.85" fill="url(#pd)" stroke="#0a0a0a" stroke-width="1.5"/>
<rect x="275.45" y="395.75" width="13.8" height="67.65" fill="#ffffff" stroke="#0a0a0a" stroke-width="1.5"/>
<line x1="311.7" y1="441.5" x2="311.7" y2="445.4" stroke="#141414" stroke-width="1.2" stroke-linecap="butt"/>
<line x1="307.7" y1="441.5" x2="315.7" y2="441.5" stroke="#141414" stroke-width="1.2" stroke-linecap="butt"/>
<line x1="326.9" y1="426.2" x2="326.9" y2="434.8" stroke="#141414" stroke-width="1.2" stroke-linecap="butt"/>
<line x1="322.9" y1="426.2" x2="330.9" y2="426.2" stroke="#141414" stroke-width="1.2" stroke-linecap="butt"/>
<line x1="342.05" y1="420.8" x2="342.05" y2="425.6" stroke="#141414" stroke-width="1.2" stroke-linecap="butt"/>
<line x1="338.05" y1="420.8" x2="346.05" y2="420.8" stroke="#141414" stroke-width="1.2" stroke-linecap="butt"/>
<rect x="304.75" y="445.15" width="15.4" height="18.25" fill="url(#pl)" stroke="#0a0a0a" stroke-width="1.5"/>
<rect x="320.15" y="434.55" width="15" height="28.85" fill="url(#pd)" stroke="#0a0a0a" stroke-width="1.5"/>
<rect x="335.15" y="425.35" width="13.8" height="38.05" fill="#ffffff" stroke="#0a0a0a" stroke-width="1.5"/>
<text class="s" transform="translate(267 475.3)" font-size="11.5" text-anchor="middle" fill="#0a0a0a" stroke="#0a0a0a" stroke-width="0.25">CD4</text>
<text class="s" transform="translate(326.8 475.3)" font-size="11.5" text-anchor="middle" fill="#0a0a0a" stroke="#0a0a0a" stroke-width="0.25">CD8</text>
<text class="s" transform="translate(216.9 472.3) rotate(-90)" font-size="11.8" text-anchor="start" fill="#0a0a0a" stroke="#0a0a0a" stroke-width="0.25">CELL NUMBERS (x10<tspan dy="-3.4" font-size="68%">6</tspan><tspan dy="3.4">)</tspan></text>
<path d="M251.5 398.7V357.9H282.3V383.3" fill="none" stroke="#333" stroke-width="1.2"/>
<path d="M251.5 366V365H266.9V372.7" fill="none" stroke="#333" stroke-width="1.2"/>
<text class="s" transform="translate(265.8 354.6)" font-size="12.5" text-anchor="middle" fill="#505050" stroke="#505050" stroke-width="0.1">*</text>
<text class="s" transform="translate(258.7 376.7)" font-size="12.5" text-anchor="middle" fill="#505050" stroke="#505050" stroke-width="0.1">*</text>
<path d="M310.8 437.5V402.7H341.9V417.5" fill="none" stroke="#333" stroke-width="1.2"/>
<path d="M310.8 410V408.8H326.2V416.5" fill="none" stroke="#333" stroke-width="1.2"/>
<text class="s" transform="translate(326.7 399)" font-size="12.5" text-anchor="middle" fill="#505050" stroke="#505050" stroke-width="0.1">*</text>
<text class="s" transform="translate(319 421.5)" font-size="12.5" text-anchor="middle" fill="#505050" stroke="#505050" stroke-width="0.1">*</text>
<line x1="394.8" y1="361.7" x2="394.8" y2="464.9" stroke="#0a0a0a" stroke-width="1.6" stroke-linecap="butt"/>
<line x1="392" y1="464.1" x2="394.8" y2="464.1" stroke="#0a0a0a" stroke-width="1.6" stroke-linecap="butt"/>
<text class="s" transform="translate(391.4 467.2) scale(1.22 1)" font-size="9.4" text-anchor="end" fill="#0a0a0a" stroke="#0a0a0a" stroke-width="0.25">0</text>
<line x1="392" y1="451.4" x2="394.8" y2="451.4" stroke="#0a0a0a" stroke-width="1.6" stroke-linecap="butt"/>
<text class="s" transform="translate(391.4 454.5) scale(1.22 1)" font-size="9.4" text-anchor="end" fill="#0a0a0a" stroke="#0a0a0a" stroke-width="0.25">1</text>
<line x1="392" y1="438.7" x2="394.8" y2="438.7" stroke="#0a0a0a" stroke-width="1.6" stroke-linecap="butt"/>
<text class="s" transform="translate(391.4 441.8) scale(1.22 1)" font-size="9.4" text-anchor="end" fill="#0a0a0a" stroke="#0a0a0a" stroke-width="0.25">2</text>
<line x1="392" y1="426" x2="394.8" y2="426" stroke="#0a0a0a" stroke-width="1.6" stroke-linecap="butt"/>
<text class="s" transform="translate(391.4 429.1) scale(1.22 1)" font-size="9.4" text-anchor="end" fill="#0a0a0a" stroke="#0a0a0a" stroke-width="0.25">3</text>
<line x1="392" y1="413.3" x2="394.8" y2="413.3" stroke="#0a0a0a" stroke-width="1.6" stroke-linecap="butt"/>
<text class="s" transform="translate(391.4 416.4) scale(1.22 1)" font-size="9.4" text-anchor="end" fill="#0a0a0a" stroke="#0a0a0a" stroke-width="0.25">4</text>
<line x1="392" y1="400.6" x2="394.8" y2="400.6" stroke="#0a0a0a" stroke-width="1.6" stroke-linecap="butt"/>
<text class="s" transform="translate(391.4 403.7) scale(1.22 1)" font-size="9.4" text-anchor="end" fill="#0a0a0a" stroke="#0a0a0a" stroke-width="0.25">5</text>
<line x1="392" y1="387.9" x2="394.8" y2="387.9" stroke="#0a0a0a" stroke-width="1.6" stroke-linecap="butt"/>
<text class="s" transform="translate(391.4 391) scale(1.22 1)" font-size="9.4" text-anchor="end" fill="#0a0a0a" stroke="#0a0a0a" stroke-width="0.25">6</text>
<line x1="392" y1="375.2" x2="394.8" y2="375.2" stroke="#0a0a0a" stroke-width="1.6" stroke-linecap="butt"/>
<text class="s" transform="translate(391.4 378.3) scale(1.22 1)" font-size="9.4" text-anchor="end" fill="#0a0a0a" stroke="#0a0a0a" stroke-width="0.25">7</text>
<line x1="392" y1="362.5" x2="394.8" y2="362.5" stroke="#0a0a0a" stroke-width="1.6" stroke-linecap="butt"/>
<text class="s" transform="translate(391.4 365.6) scale(1.22 1)" font-size="9.4" text-anchor="end" fill="#0a0a0a" stroke="#0a0a0a" stroke-width="0.25">8</text>
<line x1="394" y1="464.1" x2="457.2" y2="464.1" stroke="#0a0a0a" stroke-width="1.6" stroke-linecap="butt"/>
<line x1="410.35" y1="390.6" x2="410.35" y2="404.2" stroke="#141414" stroke-width="1.2" stroke-linecap="butt"/>
<line x1="406.25" y1="390.6" x2="414.45" y2="390.6" stroke="#141414" stroke-width="1.2" stroke-linecap="butt"/>
<line x1="426.1" y1="404.5" x2="426.1" y2="416.7" stroke="#141414" stroke-width="1.2" stroke-linecap="butt"/>
<line x1="422" y1="404.5" x2="430.2" y2="404.5" stroke="#141414" stroke-width="1.2" stroke-linecap="butt"/>
<line x1="441.7" y1="368.7" x2="441.7" y2="394.3" stroke="#141414" stroke-width="1.2" stroke-linecap="butt"/>
<line x1="437.6" y1="368.7" x2="445.8" y2="368.7" stroke="#141414" stroke-width="1.2" stroke-linecap="butt"/>
<rect x="402.95" y="403.95" width="16.3" height="60.15" fill="url(#pl)" stroke="#0a0a0a" stroke-width="1.5"/>
<rect x="419.25" y="416.45" width="15.2" height="47.65" fill="url(#pd)" stroke="#0a0a0a" stroke-width="1.5"/>
<rect x="434.45" y="394.05" width="14.5" height="70.05" fill="#ffffff" stroke="#0a0a0a" stroke-width="1.5"/>
<text class="s" transform="translate(422.6 478.2) scale(1 0.95)" font-size="10.8" text-anchor="middle" fill="#0a0a0a" stroke="#0a0a0a" stroke-width="0.25">LN</text>
<text class="s" transform="translate(379.7 468.8) rotate(-90) scale(1 1.1)" font-size="11.2" text-anchor="start" fill="#0a0a0a" stroke="#0a0a0a" stroke-width="0.25">CELL NUMBERS(x10<tspan dy="-3.4" font-size="68%">6</tspan><tspan dy="3.4">)</tspan></text>
<rect x="459.55" y="359.25" width="14.3" height="6.2" fill="url(#pl)" stroke="#000" stroke-width="1.5"/>
<text class="s" transform="translate(475.6 366.2) scale(1 0.97)" font-size="11.2" text-anchor="start" fill="#0a0a0a" stroke="#0a0a0a" stroke-width="0.25">KGF(-/-)</text>
<rect x="459.55" y="372.25" width="14.3" height="6.2" fill="url(#pd)" stroke="#000" stroke-width="1.5"/>
<text class="s" transform="translate(475.6 379.2) scale(1 0.97)" font-size="11.2" text-anchor="start" fill="#0a0a0a" stroke="#0a0a0a" stroke-width="0.25">KGF(+/-)</text>
<rect x="459.55" y="385.45" width="14.3" height="6.2" fill="#ffffff" stroke="#000" stroke-width="1.5"/>
<text class="s" transform="translate(475.6 392) scale(1 0.97)" font-size="11.2" text-anchor="start" fill="#0a0a0a" stroke="#0a0a0a" stroke-width="0.25">WT</text>
<line x1="303.3" y1="578.04" x2="303.3" y2="677.25" stroke="#0a0a0a" stroke-width="1.7" stroke-linecap="butt"/>
<line x1="300.3" y1="676.4" x2="303.3" y2="676.4" stroke="#0a0a0a" stroke-width="1.7" stroke-linecap="butt"/>
<text class="s" transform="translate(299.5 680.13)" font-size="11.3" text-anchor="end" fill="#0a0a0a" stroke="#0a0a0a" stroke-width="0.25">0</text>
<line x1="300.3" y1="662.47" x2="303.3" y2="662.47" stroke="#0a0a0a" stroke-width="1.7" stroke-linecap="butt"/>
<text class="s" transform="translate(299.5 666.2)" font-size="11.3" text-anchor="end" fill="#0a0a0a" stroke="#0a0a0a" stroke-width="0.25">5</text>
<line x1="300.3" y1="648.54" x2="303.3" y2="648.54" stroke="#0a0a0a" stroke-width="1.7" stroke-linecap="butt"/>
<text class="s" transform="translate(299.5 652.27)" font-size="11.3" text-anchor="end" fill="#0a0a0a" stroke="#0a0a0a" stroke-width="0.25">10</text>
<line x1="300.3" y1="634.61" x2="303.3" y2="634.61" stroke="#0a0a0a" stroke-width="1.7" stroke-linecap="butt"/>
<text class="s" transform="translate(299.5 638.34)" font-size="11.3" text-anchor="end" fill="#0a0a0a" stroke="#0a0a0a" stroke-width="0.25">15</text>
<line x1="300.3" y1="620.68" x2="303.3" y2="620.68" stroke="#0a0a0a" stroke-width="1.7" stroke-linecap="butt"/>
<text class="s" transform="translate(299.5 624.41)" font-size="11.3" text-anchor="end" fill="#0a0a0a" stroke="#0a0a0a" stroke-width="0.25">20</text>
<line x1="300.3" y1="606.75" x2="303.3" y2="606.75" stroke="#0a0a0a" stroke-width="1.7" stroke-linecap="butt"/>
<text class="s" transform="translate(299.5 610.48)" font-size="11.3" text-anchor="end" fill="#0a0a0a" stroke="#0a0a0a" stroke-width="0.25">25</text>
<line x1="300.3" y1="592.82" x2="303.3" y2="592.82" stroke="#0a0a0a" stroke-width="1.7" stroke-linecap="butt"/>
<text class="s" transform="translate(299.5 596.55)" font-size="11.3" text-anchor="end" fill="#0a0a0a" stroke="#0a0a0a" stroke-width="0.25">30</text>
<line x1="300.3" y1="578.89" x2="303.3" y2="578.89" stroke="#0a0a0a" stroke-width="1.7" stroke-linecap="butt"/>
<text class="s" transform="translate(299.5 582.62)" font-size="11.3" text-anchor="end" fill="#0a0a0a" stroke="#0a0a0a" stroke-width="0.25">35</text>
<line x1="302.45" y1="676.4" x2="416.6" y2="676.4" stroke="#0a0a0a" stroke-width="1.7" stroke-linecap="butt"/>
<line x1="331.8" y1="676.4" x2="331.8" y2="680.6" stroke="#0a0a0a" stroke-width="1.53" stroke-linecap="butt"/>
<line x1="387.6" y1="676.4" x2="387.6" y2="680.6" stroke="#0a0a0a" stroke-width="1.53" stroke-linecap="butt"/>
<line x1="322.05" y1="579" x2="322.05" y2="587.3" stroke="#141414" stroke-width="1.2" stroke-linecap="butt"/>
<line x1="317.05" y1="579" x2="327.05" y2="579" stroke="#141414" stroke-width="1.2" stroke-linecap="butt"/>
<line x1="341.2" y1="584.2" x2="341.2" y2="601.8" stroke="#141414" stroke-width="1.2" stroke-linecap="butt"/>
<line x1="336.2" y1="584.2" x2="346.2" y2="584.2" stroke="#141414" stroke-width="1.2" stroke-linecap="butt"/>
<rect x="313.15" y="587.05" width="19.3" height="89.35" fill="url(#pl)" stroke="#0a0a0a" stroke-width="1.5"/>
<rect x="332.45" y="601.55" width="17.5" height="74.85" fill="url(#pd)" stroke="#0a0a0a" stroke-width="1.5"/>
<line x1="397.35" y1="665.6" x2="397.35" y2="667.8" stroke="#141414" stroke-width="1.2" stroke-linecap="butt"/>
<line x1="392.6" y1="665.6" x2="402.1" y2="665.6" stroke="#141414" stroke-width="1.2" stroke-linecap="butt"/>
<rect x="369.25" y="669.25" width="19.1" height="7.15" fill="url(#pl)" stroke="#0a0a0a" stroke-width="1.5"/>
<rect x="388.35" y="667.55" width="18" height="8.85" fill="url(#pd)" stroke="#0a0a0a" stroke-width="1.5"/>
<text class="s" transform="translate(339.6 683) rotate(-44)" font-size="9.4" text-anchor="end" fill="#0a0a0a" stroke="#0a0a0a" stroke-width="0.3">C-Kit+SCA-1-</text>
<text class="s" transform="translate(391.2 684.6) rotate(-44)" font-size="9.4" text-anchor="end" fill="#0a0a0a" stroke="#0a0a0a" stroke-width="0.3">- C-Kit+SCA1+</text>
<text class="s" transform="translate(281.2 686.6) rotate(-90)" font-size="12.2" text-anchor="start" fill="#0a0a0a" stroke="#0a0a0a" stroke-width="0.25">CELL NUMBERS (x10<tspan dy="-3.4" font-size="68%">4</tspan><tspan dy="3.4">)</tspan></text>
<rect x="410.35" y="593.85" width="13.9" height="6" fill="url(#pl)" stroke="#000" stroke-width="1.5"/>
<text class="s" transform="translate(425.8 600.5) scale(1 0.97)" font-size="10.9" text-anchor="start" fill="#0a0a0a" stroke="#0a0a0a" stroke-width="0.25">KGF(-/-)</text>
<rect x="410.35" y="607.65" width="13.9" height="6.2" fill="url(#pd)" stroke="#000" stroke-width="1.5"/>
<text class="s" transform="translate(425.8 614.3) scale(1 0.97)" font-size="10.9" text-anchor="start" fill="#0a0a0a" stroke="#0a0a0a" stroke-width="0.25">KGF(+/-)</text>
<rect x="264.9" y="58.9" width="83.5" height="83.4" fill="#fff" stroke="#8a8a8a" stroke-width="0.9"/>
<line x1="264.9" y1="58.5" x2="264.9" y2="142.7" stroke="#4a4a4a" stroke-width="1" stroke-linecap="butt"/>
<line x1="264.5" y1="142.3" x2="348.8" y2="142.3" stroke="#4a4a4a" stroke-width="1" stroke-linecap="butt"/>
<text class="s" transform="translate(261.7 143.8)" font-size="4.2" text-anchor="end" fill="#444" stroke="#444" stroke-width="0.2">10<tspan dy="-1.3" font-size="75%">0</tspan></text>
<text class="s" transform="translate(265.7 148.6)" font-size="4.2" text-anchor="middle" fill="#444" stroke="#444" stroke-width="0.2">10<tspan dy="-1.3" font-size="75%">0</tspan></text>
<line x1="263.3" y1="142.3" x2="264.9" y2="142.3" stroke="#555" stroke-width="0.6" stroke-linecap="butt"/>
<line x1="264.9" y1="142.3" x2="264.9" y2="143.9" stroke="#555" stroke-width="0.6" stroke-linecap="butt"/>
<text class="s" transform="translate(261.7 122.95)" font-size="4.2" text-anchor="end" fill="#444" stroke="#444" stroke-width="0.2">10<tspan dy="-1.3" font-size="75%">1</tspan></text>
<text class="s" transform="translate(286.57 148.6)" font-size="4.2" text-anchor="middle" fill="#444" stroke="#444" stroke-width="0.2">10<tspan dy="-1.3" font-size="75%">1</tspan></text>
<line x1="263.3" y1="121.45" x2="264.9" y2="121.45" stroke="#555" stroke-width="0.6" stroke-linecap="butt"/>
<line x1="285.77" y1="142.3" x2="285.77" y2="143.9" stroke="#555" stroke-width="0.6" stroke-linecap="butt"/>
<text class="s" transform="translate(261.7 102.1)" font-size="4.2" text-anchor="end" fill="#444" stroke="#444" stroke-width="0.2">10<tspan dy="-1.3" font-size="75%">2</tspan></text>
<text class="s" transform="translate(307.45 148.6)" font-size="4.2" text-anchor="middle" fill="#444" stroke="#444" stroke-width="0.2">10<tspan dy="-1.3" font-size="75%">2</tspan></text>
<line x1="263.3" y1="100.6" x2="264.9" y2="100.6" stroke="#555" stroke-width="0.6" stroke-linecap="butt"/>
<line x1="306.65" y1="142.3" x2="306.65" y2="143.9" stroke="#555" stroke-width="0.6" stroke-linecap="butt"/>
<text class="s" transform="translate(261.7 81.25)" font-size="4.2" text-anchor="end" fill="#444" stroke="#444" stroke-width="0.2">10<tspan dy="-1.3" font-size="75%">3</tspan></text>
<text class="s" transform="translate(328.32 148.6)" font-size="4.2" text-anchor="middle" fill="#444" stroke="#444" stroke-width="0.2">10<tspan dy="-1.3" font-size="75%">3</tspan></text>
<line x1="263.3" y1="79.75" x2="264.9" y2="79.75" stroke="#555" stroke-width="0.6" stroke-linecap="butt"/>
<line x1="327.52" y1="142.3" x2="327.52" y2="143.9" stroke="#555" stroke-width="0.6" stroke-linecap="butt"/>
<text class="s" transform="translate(261.7 60.4)" font-size="4.2" text-anchor="end" fill="#444" stroke="#444" stroke-width="0.2">10<tspan dy="-1.3" font-size="75%">4</tspan></text>
<text class="s" transform="translate(349.2 148.6)" font-size="4.2" text-anchor="middle" fill="#444" stroke="#444" stroke-width="0.2">10<tspan dy="-1.3" font-size="75%">4</tspan></text>
<line x1="263.3" y1="58.9" x2="264.9" y2="58.9" stroke="#555" stroke-width="0.6" stroke-linecap="butt"/>
<line x1="348.4" y1="142.3" x2="348.4" y2="143.9" stroke="#555" stroke-width="0.6" stroke-linecap="butt"/>
<line x1="264.4" y1="58.9" x2="264.4" y2="142.3" stroke="#666" stroke-width="1.3" stroke-dasharray=".5 1.5"/>
<line x1="264.9" y1="142.8" x2="348.4" y2="142.8" stroke="#666" stroke-width="1.3" stroke-dasharray=".5 1.5"/>
<polygon points="265.3,89.6 297.8,86.9 294.3,111.9 265.3,112.6" fill="none" stroke="#777" stroke-width="0.7"/>
<polygon points="297.8,86.9 335.3,81.6 330.6,107.9 314.3,113.3 294.3,111.9" fill="none" stroke="#777" stroke-width="0.7"/>
<polygon points="265.3,113.3 294.3,112.6 292.8,141.1 265.3,141.1" fill="none" stroke="#777" stroke-width="0.7"/>
<polygon points="314.3,113.6 330.6,113.6 329.3,141.1 314.3,141.1" fill="none" stroke="#777" stroke-width="0.7"/>
<clipPath id="cp1"><rect x="265.3" y="59.3" width="82.7" height="82.6"/></clipPath>
<g clip-path="url(#cp1)"><g filter="url(#sp)">
<rect x="252.9" y="46.9" width="107.5" height="107.4" fill="#000" fill-opacity="0"/>
<polygon points="265.3,100.6 271.3,94.6 283.3,93.1 293.3,96.6 301.3,93.6 312.3,89.1 324.3,86.6 323.3,98.6 319.3,108.6 315.3,120.6 310.3,131.6 302.3,140.6 271.3,141.1 267.3,132.6 267.3,118.6 270.3,110.6 265.3,108.6" fill="#000" fill-opacity="0.61" filter="url(#b2)"/>
<polygon points="266.9,102.3 272.1,98.8 282.5,97.5 290.3,99.7 295.3,103.6 295.3,108.6 277.3,108.6 270.4,106.6" fill="#000" fill-opacity="0.8" filter="url(#b1)"/>
<polygon points="294.6,103.6 301.5,98.8 311.9,94.5 321.1,91.1 318.8,98 315.3,104 311.9,111 309.3,116.6 301.3,118.6 295.3,114.6" fill="#000" fill-opacity="0.8" filter="url(#b1)"/>
<polygon points="278.3,106.6 295.3,105.6 310.8,110.6 309.3,119.6 305.3,127.1 298.8,133.6 290.3,137.1 280.8,137.1 273.8,131.6 272.8,123.1 274.3,114.4" fill="#000" fill-opacity="0.7" filter="url(#b2)"/>
<polygon points="317.3,88.6 341.3,84.6 339.3,110.6 323.3,118.6 315.3,114.6" fill="#000" fill-opacity="0.49" filter="url(#b3)"/>
<polygon points="305.3,118.6 327.3,116.6 327.3,138.6 305.3,140.6" fill="#000" fill-opacity="0.48" filter="url(#b3)"/>
<polygon points="268.3,88.6 325.3,74.6 327.3,90.6 268.3,98.6" fill="#000" fill-opacity="0.41" filter="url(#b3)"/>
</g></g>
<polygon points="268.8,102.6 273.8,99.8 282.3,99.6 290.8,102.1 287.8,105.1 279.8,106.6 272.3,105.9" fill="#adadad" stroke="#505050" stroke-width="0.6"/>
<polygon points="296.8,107.1 301.3,101.6 309.3,98.4 321.3,91.8 316.8,101.6 311.3,109.6 306.3,113.6 299.8,112.1" fill="#a8a8a8" stroke="#505050" stroke-width="0.6"/>
<polygon points="301.1,106.9 305.8,102.1 312.3,100.4 309.3,106.6 305.3,110.6" fill="#c4c4c4" stroke="#8a8a8a" stroke-width="0.4"/>
<circle cx="306.7" cy="104.6" r="0.8" fill="#444"/>
<text class="s" transform="translate(306.8 53) scale(1 1.04)" font-size="13.3" text-anchor="middle" fill="#0a0a0a" stroke="#0a0a0a" stroke-width="0.25">KGF (+/-)</text>
<text class="s" transform="translate(269.4 76.5) scale(1 1.12)" font-size="11.2" text-anchor="start" fill="#0a0a0a" stroke="#0a0a0a" stroke-width="0.25">13%</text>
<text class="s" transform="translate(322.6 78.1) scale(1 1.12)" font-size="11.2" text-anchor="start" fill="#0a0a0a" stroke="#0a0a0a" stroke-width="0.25">77%</text>
<text class="s" transform="translate(266.8 138.8) scale(1 1.12)" font-size="11.2" text-anchor="start" fill="#0a0a0a" stroke="#0a0a0a" stroke-width="0.25">5%</text>
<text class="s" transform="translate(312.2 135.6) scale(1 1.12)" font-size="11.2" text-anchor="start" fill="#0a0a0a" stroke="#0a0a0a" stroke-width="0.25">5%</text>
<rect x="370.6" y="57.5" width="83.6" height="83.6" fill="#fff" stroke="#8a8a8a" stroke-width="0.9"/>
<line x1="370.6" y1="57.1" x2="370.6" y2="141.5" stroke="#4a4a4a" stroke-width="1" stroke-linecap="butt"/>
<line x1="370.2" y1="141.1" x2="454.6" y2="141.1" stroke="#4a4a4a" stroke-width="1" stroke-linecap="butt"/>
<text class="s" transform="translate(367.4 142.6)" font-size="4.2" text-anchor="end" fill="#444" stroke="#444" stroke-width="0.2">10<tspan dy="-1.3" font-size="75%">0</tspan></text>
<text class="s" transform="translate(371.4 147.4)" font-size="4.2" text-anchor="middle" fill="#444" stroke="#444" stroke-width="0.2">10<tspan dy="-1.3" font-size="75%">0</tspan></text>
<line x1="369" y1="141.1" x2="370.6" y2="141.1" stroke="#555" stroke-width="0.6" stroke-linecap="butt"/>
<line x1="370.6" y1="141.1" x2="370.6" y2="142.7" stroke="#555" stroke-width="0.6" stroke-linecap="butt"/>
<text class="s" transform="translate(367.4 121.7)" font-size="4.2" text-anchor="end" fill="#444" stroke="#444" stroke-width="0.2">10<tspan dy="-1.3" font-size="75%">1</tspan></text>
<text class="s" transform="translate(392.3 147.4)" font-size="4.2" text-anchor="middle" fill="#444" stroke="#444" stroke-width="0.2">10<tspan dy="-1.3" font-size="75%">1</tspan></text>
<line x1="369" y1="120.2" x2="370.6" y2="120.2" stroke="#555" stroke-width="0.6" stroke-linecap="butt"/>
<line x1="391.5" y1="141.1" x2="391.5" y2="142.7" stroke="#555" stroke-width="0.6" stroke-linecap="butt"/>
<text class="s" transform="translate(367.4 100.8)" font-size="4.2" text-anchor="end" fill="#444" stroke="#444" stroke-width="0.2">10<tspan dy="-1.3" font-size="75%">2</tspan></text>
<text class="s" transform="translate(413.2 147.4)" font-size="4.2" text-anchor="middle" fill="#444" stroke="#444" stroke-width="0.2">10<tspan dy="-1.3" font-size="75%">2</tspan></text>
<line x1="369" y1="99.3" x2="370.6" y2="99.3" stroke="#555" stroke-width="0.6" stroke-linecap="butt"/>
<line x1="412.4" y1="141.1" x2="412.4" y2="142.7" stroke="#555" stroke-width="0.6" stroke-linecap="butt"/>
<text class="s" transform="translate(367.4 79.9)" font-size="4.2" text-anchor="end" fill="#444" stroke="#444" stroke-width="0.2">10<tspan dy="-1.3" font-size="75%">3</tspan></text>
<text class="s" transform="translate(434.1 147.4)" font-size="4.2" text-anchor="middle" fill="#444" stroke="#444" stroke-width="0.2">10<tspan dy="-1.3" font-size="75%">3</tspan></text>
<line x1="369" y1="78.4" x2="370.6" y2="78.4" stroke="#555" stroke-width="0.6" stroke-linecap="butt"/>
<line x1="433.3" y1="141.1" x2="433.3" y2="142.7" stroke="#555" stroke-width="0.6" stroke-linecap="butt"/>
<text class="s" transform="translate(367.4 59)" font-size="4.2" text-anchor="end" fill="#444" stroke="#444" stroke-width="0.2">10<tspan dy="-1.3" font-size="75%">4</tspan></text>
<text class="s" transform="translate(455 147.4)" font-size="4.2" text-anchor="middle" fill="#444" stroke="#444" stroke-width="0.2">10<tspan dy="-1.3" font-size="75%">4</tspan></text>
<line x1="369" y1="57.5" x2="370.6" y2="57.5" stroke="#555" stroke-width="0.6" stroke-linecap="butt"/>
<line x1="454.2" y1="141.1" x2="454.2" y2="142.7" stroke="#555" stroke-width="0.6" stroke-linecap="butt"/>
<line x1="370.1" y1="57.5" x2="370.1" y2="141.1" stroke="#666" stroke-width="1.3" stroke-dasharray=".5 1.5"/>
<line x1="370.6" y1="141.6" x2="454.2" y2="141.6" stroke="#666" stroke-width="1.3" stroke-dasharray=".5 1.5"/>
<polygon points="372,89.2 405,86.7 400,112.2 372,112.2" fill="none" stroke="#777" stroke-width="0.7"/>
<polygon points="405,86.7 442,83.7 434.5,111.7 418,113.2 400,112.2" fill="none" stroke="#777" stroke-width="0.7"/>
<polygon points="372,113.2 400,113.2 399,141.2 372,141.2" fill="none" stroke="#777" stroke-width="0.7"/>
<polygon points="418,113.7 434.5,112.7 435,141.2 418,141.2" fill="none" stroke="#777" stroke-width="0.7"/>
<clipPath id="cp2"><rect x="371" y="57.9" width="82.8" height="82.8"/></clipPath>
<g clip-path="url(#cp2)"><g filter="url(#sp)">
<rect x="358.6" y="45.5" width="107.6" height="107.6" fill="#000" fill-opacity="0"/>
<polygon points="372,98.7 378,92.7 390,91.7 400,95.2 410,92.2 422,86.7 434,82.7 433,95.7 428,106.7 425,117.7 420,127.7 410,135.7 398,140.7 379,140.7 376,131.7 377,117.7 379,109.7 372,107.7" fill="#000" fill-opacity="0.56" filter="url(#b2)"/>
<polygon points="374.7,99.7 379.8,96.8 390.2,96.2 398.9,98.8 403,102.7 402,107.7 386,107.7 378.1,105.7" fill="#000" fill-opacity="0.83" filter="url(#b1)"/>
<polygon points="402.3,102.3 411,97.5 423.1,91.1 432,86.2 429.1,95.4 424,102.3 419.6,109.2 416,115.7 408,116.7 402,111.7" fill="#000" fill-opacity="0.83" filter="url(#b1)"/>
<polygon points="387,105.7 402,104.7 417,109.7 416.5,116.1 412,121.7 405,125.7 399,129.7 394,134.2 385.5,133.7 383.5,126.7 385.5,117.9" fill="#000" fill-opacity="0.66" filter="url(#b2)"/>
<polygon points="428,87.7 450,85.7 446,107.7 430,113.7 424,109.7" fill="#000" fill-opacity="0.49" filter="url(#b3)"/>
<polygon points="410,119.7 430,115.7 430,131.7 408,137.7" fill="#000" fill-opacity="0.42" filter="url(#b3)"/>
<polygon points="375,87.7 432,73.7 434,89.7 375,97.7" fill="#000" fill-opacity="0.41" filter="url(#b3)"/>
</g></g>
<polygon points="380,101.3 386,99.2 394.5,100 398,102.3 393,104.5 384.5,104.3" fill="#adadad" stroke="#505050" stroke-width="0.6"/>
<polygon points="403.5,104 417.9,95.3 431.5,87.1 426.2,97.3 418.2,107.9 413.6,113.2 407,111.3 404,107.7" fill="#a8a8a8" stroke="#505050" stroke-width="0.6"/>
<polygon points="407,106.2 413,102 420,98.9 416,106.7 412,110.7 408.3,109.5" fill="#c4c4c4" stroke="#8a8a8a" stroke-width="0.4"/>
<circle cx="412.7" cy="104" r="0.8" fill="#444"/>
<text class="s" transform="translate(410.4 54) scale(1 1.04)" font-size="15.6" text-anchor="middle" fill="#0a0a0a" stroke="#0a0a0a" stroke-width="0.25">KGF (-/-)</text>
<text class="s" transform="translate(376 78.3) scale(1 1.12)" font-size="11.6" text-anchor="start" fill="#0a0a0a" stroke="#0a0a0a" stroke-width="0.25">12%</text>
<text class="s" transform="translate(415 78.3) scale(1 1.12)" font-size="11.6" text-anchor="start" fill="#0a0a0a" stroke="#0a0a0a" stroke-width="0.25">80%</text>
<text class="s" transform="translate(376 136.4) scale(1 1.12)" font-size="11.6" text-anchor="start" fill="#0a0a0a" stroke="#0a0a0a" stroke-width="0.25">4%</text>
<text class="s" transform="translate(419.5 135.6) scale(1 1.12)" font-size="11.6" text-anchor="start" fill="#0a0a0a" stroke="#0a0a0a" stroke-width="0.25">4%</text>
<text class="s" transform="translate(208 142) scale(1 1.12)" font-size="13.3" text-anchor="start" fill="#0a0a0a" stroke="#0a0a0a" stroke-width="0.25">CD4</text>
<text class="s" transform="translate(250.8 174.2) scale(1 1.14)" font-size="13.3" text-anchor="start" fill="#0a0a0a" stroke="#0a0a0a" stroke-width="0.25">CD8</text>
<path d="M243.8 120.6V158.8H281.8" fill="none" stroke="#000" stroke-width="2.2" stroke-linejoin="miter"/>
<path d="M243.8 111.6L238.6 121.6L249 121.6Z" fill="#000"/>
<path d="M290.8 158.8L280.8 153.6L280.8 164Z" fill="#000"/>
<rect x="44" y="573.2" width="82" height="79.8" fill="#fff" stroke="#8a8a8a" stroke-width="0.9"/>
<line x1="44" y1="572.8" x2="44" y2="653.4" stroke="#4a4a4a" stroke-width="1" stroke-linecap="butt"/>
<line x1="43.6" y1="653" x2="126.4" y2="653" stroke="#4a4a4a" stroke-width="1" stroke-linecap="butt"/>
<text class="s" transform="translate(40.8 654.5)" font-size="4.2" text-anchor="end" fill="#444" stroke="#444" stroke-width="0.2">10<tspan dy="-1.3" font-size="75%">0</tspan></text>
<text class="s" transform="translate(44.8 659.3)" font-size="4.2" text-anchor="middle" fill="#444" stroke="#444" stroke-width="0.2">10<tspan dy="-1.3" font-size="75%">0</tspan></text>
<line x1="42.4" y1="653" x2="44" y2="653" stroke="#555" stroke-width="0.6" stroke-linecap="butt"/>
<line x1="44" y1="653" x2="44" y2="654.6" stroke="#555" stroke-width="0.6" stroke-linecap="butt"/>
<text class="s" transform="translate(40.8 634.55)" font-size="4.2" text-anchor="end" fill="#444" stroke="#444" stroke-width="0.2">10<tspan dy="-1.3" font-size="75%">1</tspan></text>
<text class="s" transform="translate(65.3 659.3)" font-size="4.2" text-anchor="middle" fill="#444" stroke="#444" stroke-width="0.2">10<tspan dy="-1.3" font-size="75%">1</tspan></text>
<line x1="42.4" y1="633.05" x2="44" y2="633.05" stroke="#555" stroke-width="0.6" stroke-linecap="butt"/>
<line x1="64.5" y1="653" x2="64.5" y2="654.6" stroke="#555" stroke-width="0.6" stroke-linecap="butt"/>
<text class="s" transform="translate(40.8 614.6)" font-size="4.2" text-anchor="end" fill="#444" stroke="#444" stroke-width="0.2">10<tspan dy="-1.3" font-size="75%">2</tspan></text>
<text class="s" transform="translate(85.8 659.3)" font-size="4.2" text-anchor="middle" fill="#444" stroke="#444" stroke-width="0.2">10<tspan dy="-1.3" font-size="75%">2</tspan></text>
<line x1="42.4" y1="613.1" x2="44" y2="613.1" stroke="#555" stroke-width="0.6" stroke-linecap="butt"/>
<line x1="85" y1="653" x2="85" y2="654.6" stroke="#555" stroke-width="0.6" stroke-linecap="butt"/>
<text class="s" transform="translate(40.8 594.65)" font-size="4.2" text-anchor="end" fill="#444" stroke="#444" stroke-width="0.2">10<tspan dy="-1.3" font-size="75%">3</tspan></text>
<text class="s" transform="translate(106.3 659.3)" font-size="4.2" text-anchor="middle" fill="#444" stroke="#444" stroke-width="0.2">10<tspan dy="-1.3" font-size="75%">3</tspan></text>
<line x1="42.4" y1="593.15" x2="44" y2="593.15" stroke="#555" stroke-width="0.6" stroke-linecap="butt"/>
<line x1="105.5" y1="653" x2="105.5" y2="654.6" stroke="#555" stroke-width="0.6" stroke-linecap="butt"/>
<text class="s" transform="translate(40.8 574.7)" font-size="4.2" text-anchor="end" fill="#444" stroke="#444" stroke-width="0.2">10<tspan dy="-1.3" font-size="75%">4</tspan></text>
<text class="s" transform="translate(126.8 659.3)" font-size="4.2" text-anchor="middle" fill="#444" stroke="#444" stroke-width="0.2">10<tspan dy="-1.3" font-size="75%">4</tspan></text>
<line x1="42.4" y1="573.2" x2="44" y2="573.2" stroke="#555" stroke-width="0.6" stroke-linecap="butt"/>
<line x1="126" y1="653" x2="126" y2="654.6" stroke="#555" stroke-width="0.6" stroke-linecap="butt"/>
<line x1="43.5" y1="573.2" x2="43.5" y2="653" stroke="#666" stroke-width="1.3" stroke-dasharray=".5 1.5"/>
<line x1="44" y1="653.5" x2="126" y2="653.5" stroke="#666" stroke-width="1.3" stroke-dasharray=".5 1.5"/>
<line x1="77.8" y1="573.2" x2="77.8" y2="653" stroke="#777" stroke-width="0.7" stroke-linecap="butt"/>
<line x1="44" y1="625" x2="126" y2="625" stroke="#777" stroke-width="0.7" stroke-linecap="butt"/>
<clipPath id="cp3"><rect x="44.4" y="573.6" width="81.2" height="79"/></clipPath>
<g clip-path="url(#cp3)"><g filter="url(#sp)">
<rect x="32" y="561.2" width="106" height="103.8" fill="#000" fill-opacity="0"/>
<ellipse cx="61.3" cy="639.6" rx="18" ry="14.5" fill="#000" fill-opacity="0.72" filter="url(#b2)"/>
<ellipse cx="62.5" cy="617" rx="15" ry="14" fill="#000" fill-opacity="0.63" filter="url(#b2)"/>
<ellipse cx="63.7" cy="615" rx="8.5" ry="9" fill="#000" fill-opacity="0.44" filter="url(#b2)"/>
<ellipse cx="63.5" cy="625.5" rx="11" ry="6" fill="#000" fill-opacity="0.44" filter="url(#b2)"/>
<rect x="58" y="575.2" width="9" height="32" fill="#000" fill-opacity="0.47" filter="url(#b3)"/>
<rect x="74.8" y="608.5" width="35" height="13" fill="#000" fill-opacity="0.54" filter="url(#b2)"/>
<rect x="74.8" y="627.5" width="48.2" height="20" fill="#000" fill-opacity="0.54" filter="url(#b2)"/>
<rect x="74.8" y="633" width="40.2" height="9" fill="#000" fill-opacity="0.15" filter="url(#b2)"/>
</g></g>
<path d="M47.1 642C46.57 639.83 47.15 637.8 48.1 636C49.05 634.2 50.77 632.22 52.8 631.2C54.83 630.18 57.72 630.07 60.3 629.9C62.88 629.73 66.3 629.68 68.3 630.2C70.3 630.72 71.43 631.45 72.3 633C73.17 634.55 73.5 637.25 73.5 639.5C73.5 641.75 73.25 644.62 72.3 646.5C71.35 648.38 69.97 649.92 67.8 650.8C65.63 651.68 62.05 652.1 59.3 651.8C56.55 651.5 53.33 650.63 51.3 649C49.27 647.37 47.63 644.17 47.1 642Z" fill="#595959" filter="url(#b1)"/>
<path d="M57.3 632.6C59.03 631.95 62.28 632.23 64.3 632.3C66.32 632.37 68.2 631.88 69.4 633C70.6 634.12 71.35 636.98 71.5 639C71.65 641.02 71.33 643.52 70.3 645.1C69.27 646.68 67.02 647.78 65.3 648.5C63.58 649.22 61.67 649.82 60 649.4C58.33 648.98 56.47 647.3 55.3 646C54.13 644.7 53.23 643.23 53 641.6C52.77 639.97 53.18 637.7 53.9 636.2C54.62 634.7 55.57 633.25 57.3 632.6Z" fill="#9b9b9b" stroke="#505050" stroke-width=".6"/>
<ellipse cx="64.7" cy="639.5" rx="5" ry="4.6" fill="#b9b9b9" stroke="#8a8a8a" stroke-width="0.4"/>
<ellipse cx="64.8" cy="639.3" rx="1.7" ry="1.5" fill="#666"/>
<text class="s" transform="translate(80.8 566.3) scale(1 1.04)" font-size="13.5" text-anchor="middle" fill="#0a0a0a" stroke="#0a0a0a" stroke-width="0.25">KGF (+/-)</text>
<text class="s" transform="translate(48.4 603.4) scale(1 1.08)" font-size="11.4" text-anchor="start" fill="#0a0a0a" stroke="#0a0a0a" stroke-width="0.25">4.5%</text>
<text class="s" transform="translate(85.6 603.4) scale(1 1.08)" font-size="11.4" text-anchor="start" fill="#0a0a0a" stroke="#0a0a0a" stroke-width="0.25">0.51%</text>
<rect x="152.1" y="576" width="81.5" height="79.6" fill="#fff" stroke="#8a8a8a" stroke-width="0.9"/>
<line x1="152.1" y1="575.6" x2="152.1" y2="656" stroke="#4a4a4a" stroke-width="1" stroke-linecap="butt"/>
<line x1="151.7" y1="655.6" x2="234" y2="655.6" stroke="#4a4a4a" stroke-width="1" stroke-linecap="butt"/>
<text class="s" transform="translate(148.9 657.1)" font-size="4.2" text-anchor="end" fill="#444" stroke="#444" stroke-width="0.2">10<tspan dy="-1.3" font-size="75%">0</tspan></text>
<text class="s" transform="translate(152.9 661.9)" font-size="4.2" text-anchor="middle" fill="#444" stroke="#444" stroke-width="0.2">10<tspan dy="-1.3" font-size="75%">0</tspan></text>
<line x1="150.5" y1="655.6" x2="152.1" y2="655.6" stroke="#555" stroke-width="0.6" stroke-linecap="butt"/>
<line x1="152.1" y1="655.6" x2="152.1" y2="657.2" stroke="#555" stroke-width="0.6" stroke-linecap="butt"/>
<text class="s" transform="translate(148.9 637.2)" font-size="4.2" text-anchor="end" fill="#444" stroke="#444" stroke-width="0.2">10<tspan dy="-1.3" font-size="75%">1</tspan></text>
<text class="s" transform="translate(173.28 661.9)" font-size="4.2" text-anchor="middle" fill="#444" stroke="#444" stroke-width="0.2">10<tspan dy="-1.3" font-size="75%">1</tspan></text>
<line x1="150.5" y1="635.7" x2="152.1" y2="635.7" stroke="#555" stroke-width="0.6" stroke-linecap="butt"/>
<line x1="172.47" y1="655.6" x2="172.47" y2="657.2" stroke="#555" stroke-width="0.6" stroke-linecap="butt"/>
<text class="s" transform="translate(148.9 617.3)" font-size="4.2" text-anchor="end" fill="#444" stroke="#444" stroke-width="0.2">10<tspan dy="-1.3" font-size="75%">2</tspan></text>
<text class="s" transform="translate(193.65 661.9)" font-size="4.2" text-anchor="middle" fill="#444" stroke="#444" stroke-width="0.2">10<tspan dy="-1.3" font-size="75%">2</tspan></text>
<line x1="150.5" y1="615.8" x2="152.1" y2="615.8" stroke="#555" stroke-width="0.6" stroke-linecap="butt"/>
<line x1="192.85" y1="655.6" x2="192.85" y2="657.2" stroke="#555" stroke-width="0.6" stroke-linecap="butt"/>
<text class="s" transform="translate(148.9 597.4)" font-size="4.2" text-anchor="end" fill="#444" stroke="#444" stroke-width="0.2">10<tspan dy="-1.3" font-size="75%">3</tspan></text>
<text class="s" transform="translate(214.03 661.9)" font-size="4.2" text-anchor="middle" fill="#444" stroke="#444" stroke-width="0.2">10<tspan dy="-1.3" font-size="75%">3</tspan></text>
<line x1="150.5" y1="595.9" x2="152.1" y2="595.9" stroke="#555" stroke-width="0.6" stroke-linecap="butt"/>
<line x1="213.22" y1="655.6" x2="213.22" y2="657.2" stroke="#555" stroke-width="0.6" stroke-linecap="butt"/>
<text class="s" transform="translate(148.9 577.5)" font-size="4.2" text-anchor="end" fill="#444" stroke="#444" stroke-width="0.2">10<tspan dy="-1.3" font-size="75%">4</tspan></text>
<text class="s" transform="translate(234.4 661.9)" font-size="4.2" text-anchor="middle" fill="#444" stroke="#444" stroke-width="0.2">10<tspan dy="-1.3" font-size="75%">4</tspan></text>
<line x1="150.5" y1="576" x2="152.1" y2="576" stroke="#555" stroke-width="0.6" stroke-linecap="butt"/>
<line x1="233.6" y1="655.6" x2="233.6" y2="657.2" stroke="#555" stroke-width="0.6" stroke-linecap="butt"/>
<line x1="151.6" y1="576" x2="151.6" y2="655.6" stroke="#666" stroke-width="1.3" stroke-dasharray=".5 1.5"/>
<line x1="152.1" y1="656.1" x2="233.6" y2="656.1" stroke="#666" stroke-width="1.3" stroke-dasharray=".5 1.5"/>
<line x1="185.5" y1="576" x2="185.5" y2="655.6" stroke="#777" stroke-width="0.7" stroke-linecap="butt"/>
<line x1="152.1" y1="627.5" x2="233.6" y2="627.5" stroke="#777" stroke-width="0.7" stroke-linecap="butt"/>
<clipPath id="cp4"><rect x="152.5" y="576.4" width="80.7" height="78.8"/></clipPath>
<g clip-path="url(#cp4)"><g filter="url(#sp)">
<rect x="140.1" y="564" width="105.5" height="103.6" fill="#000" fill-opacity="0"/>
<ellipse cx="169.8" cy="641.5" rx="18" ry="14.5" fill="#000" fill-opacity="0.72" filter="url(#b2)"/>
<ellipse cx="171" cy="619.5" rx="15" ry="14" fill="#000" fill-opacity="0.63" filter="url(#b2)"/>
<ellipse cx="172.2" cy="617.5" rx="8.5" ry="9" fill="#000" fill-opacity="0.57" filter="url(#b2)"/>
<ellipse cx="172" cy="628" rx="11" ry="6" fill="#000" fill-opacity="0.44" filter="url(#b2)"/>
<rect x="166.5" y="578" width="9" height="32" fill="#000" fill-opacity="0.47" filter="url(#b3)"/>
<rect x="182.5" y="611" width="35" height="13" fill="#000" fill-opacity="0.54" filter="url(#b2)"/>
<rect x="182.5" y="630" width="48.1" height="20" fill="#000" fill-opacity="0.54" filter="url(#b2)"/>
<rect x="182.5" y="635.5" width="40.1" height="9" fill="#000" fill-opacity="0.15" filter="url(#b2)"/>
</g></g>
<path d="M152.26 643.21C151.62 640.89 152.32 638.71 153.46 636.78C154.6 634.86 156.66 632.74 159.1 631.65C161.54 630.56 165 630.44 168.1 630.26C171.2 630.08 175.3 630.03 177.7 630.58C180.1 631.13 181.46 631.92 182.5 633.58C183.54 635.23 183.94 638.12 183.94 640.53C183.94 642.94 183.64 646 182.5 648.02C181.36 650.04 179.7 651.68 177.1 652.62C174.5 653.57 170.2 654.01 166.9 653.69C163.6 653.37 159.74 652.44 157.3 650.7C154.86 648.95 152.9 645.52 152.26 643.21Z" fill="#595959" filter="url(#b1)"/>
<path d="M164.5 633.15C166.58 632.45 170.48 632.75 172.9 632.83C175.32 632.9 177.58 632.38 179.02 633.58C180.46 634.77 181.36 637.84 181.54 640C181.72 642.15 181.34 644.83 180.1 646.52C178.86 648.22 176.16 649.39 174.1 650.16C172.04 650.93 169.74 651.57 167.74 651.12C165.74 650.68 163.5 648.88 162.1 647.49C160.7 646.09 159.62 644.52 159.34 642.78C159.06 641.03 159.56 638.6 160.42 637C161.28 635.39 162.42 633.84 164.5 633.15Z" fill="#9b9b9b" stroke="#505050" stroke-width=".6"/>
<ellipse cx="172.7" cy="640.3" rx="6.3" ry="5.1" fill="#b9b9b9" stroke="#8a8a8a" stroke-width="0.4"/>
<ellipse cx="174" cy="640" rx="1.7" ry="1.5" fill="#666"/>
<text class="s" transform="translate(190.7 567.7) scale(1 1.04)" font-size="15.5" text-anchor="middle" fill="#0a0a0a" stroke="#0a0a0a" stroke-width="0.25">KGF (-/-)</text>
<text class="s" transform="translate(164.4 604.8) scale(1 1.08)" font-size="11.8" text-anchor="start" fill="#0a0a0a" stroke="#0a0a0a" stroke-width="0.25">5%</text>
<text class="s" transform="translate(198 604.8) scale(1 1.08)" font-size="11.8" text-anchor="start" fill="#0a0a0a" stroke="#0a0a0a" stroke-width="0.25">0.44%</text>
<text class="s" transform="translate(0.5 650.5) scale(1 1.1)" font-size="13.2" text-anchor="start" fill="#0a0a0a" stroke="#0a0a0a" stroke-width="0.25">C-kit</text>
<text class="s" transform="translate(36.3 686) scale(1 1.14)" font-size="13.1" text-anchor="start" fill="#0a0a0a" stroke="#0a0a0a" stroke-width="0.25">SCA-1</text>
<path d="M31.6 631.4V666.6H68.2" fill="none" stroke="#000" stroke-width="2.2" stroke-linejoin="miter"/>
<path d="M31.6 622.4L26.4 632.4L36.8 632.4Z" fill="#000"/>
<path d="M77.2 666.6L67.2 661.4L67.2 671.8Z" fill="#000"/>
</svg>
</body></html>
